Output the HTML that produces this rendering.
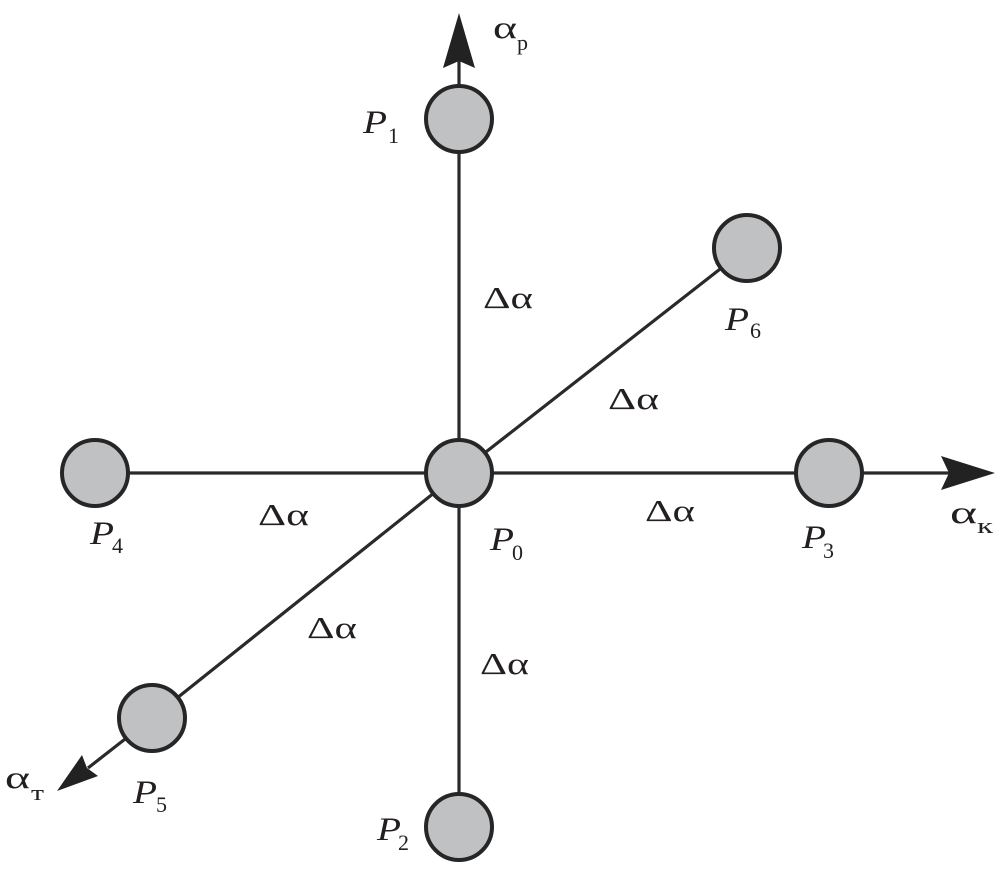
<!DOCTYPE html>
<html>
<head>
<meta charset="utf-8">
<style>
  html, body { margin: 0; padding: 0; background: #ffffff; }
  svg { display: block; }
</style>
</head>
<body>
<svg width="1000" height="877" viewBox="0 0 1000 877" xmlns="http://www.w3.org/2000/svg">
  <g stroke="#2a2a2a" stroke-width="3.2" fill="none">
    <line x1="459" y1="60" x2="459" y2="795"/>
    <line x1="125" y1="473" x2="952" y2="473"/>
    <polyline points="747,248 459,473 152,718 88,768"/>
  </g>
  <g fill="#222222">
    <polygon points="459,13 443,68 459,61 475,68"/>
    <polygon points="995,473 941,456 949,473 941,490"/>
    <polygon points="57,791 82,755 87,768 98,776"/>
  </g>
  <g fill="#c0c1c3" stroke="#262626" stroke-width="4">
    <circle cx="459" cy="119" r="33"/>
    <circle cx="459" cy="473" r="33"/>
    <circle cx="459" cy="827" r="33"/>
    <circle cx="829" cy="473" r="33"/>
    <circle cx="95" cy="473" r="33"/>
    <circle cx="152" cy="718" r="33"/>
    <circle cx="747" cy="248" r="33"/>
  </g>

  <g font-family="'Liberation Serif', 'Times New Roman', Times, serif" fill="#231f20" font-weight="normal">
    <!-- axis labels -->
    <text font-size="32" x="493" y="38" textLength="24" lengthAdjust="spacingAndGlyphs">α</text>
    <text font-size="22" x="517" y="50">p</text>

    <text font-size="32" x="950" y="523" textLength="27" lengthAdjust="spacingAndGlyphs">α</text>
    <text font-size="22" x="977" y="533" textLength="16" lengthAdjust="spacingAndGlyphs">к</text>

    <text font-size="32" x="5" y="788" textLength="25" lengthAdjust="spacingAndGlyphs">α</text>
    <text font-size="22" x="31" y="800" textLength="13" lengthAdjust="spacingAndGlyphs">т</text>

    <!-- point labels -->
    <text font-size="33" font-style="italic" x="363" y="133" textLength="24" lengthAdjust="spacingAndGlyphs">P</text>
    <text font-size="22" x="388" y="143">1</text>
    <text font-size="33" font-style="italic" x="725" y="330" textLength="24" lengthAdjust="spacingAndGlyphs">P</text>
    <text font-size="22" x="750" y="338">6</text>
    <text font-size="33" font-style="italic" x="90" y="544" textLength="24" lengthAdjust="spacingAndGlyphs">P</text>
    <text font-size="22" x="112" y="553">4</text>
    <text font-size="33" font-style="italic" x="490" y="550" textLength="24" lengthAdjust="spacingAndGlyphs">P</text>
    <text font-size="22" x="512" y="560">0</text>
    <text font-size="33" font-style="italic" x="802" y="548" textLength="24" lengthAdjust="spacingAndGlyphs">P</text>
    <text font-size="22" x="823" y="558">3</text>
    <text font-size="33" font-style="italic" x="133" y="803" textLength="24" lengthAdjust="spacingAndGlyphs">P</text>
    <text font-size="22" x="156" y="812">5</text>
    <text font-size="33" font-style="italic" x="377" y="840" textLength="24" lengthAdjust="spacingAndGlyphs">P</text>
    <text font-size="22" x="398" y="850">2</text>

    <!-- Δα labels -->
    <text font-size="31" x="483" y="308" textLength="50" lengthAdjust="spacingAndGlyphs">Δα</text>
    <text font-size="31" x="608" y="409" textLength="51" lengthAdjust="spacingAndGlyphs">Δα</text>
    <text font-size="31" x="258" y="525" textLength="51" lengthAdjust="spacingAndGlyphs">Δα</text>
    <text font-size="31" x="645" y="521" textLength="50" lengthAdjust="spacingAndGlyphs">Δα</text>
    <text font-size="31" x="307" y="638" textLength="50" lengthAdjust="spacingAndGlyphs">Δα</text>
    <text font-size="31" x="480" y="674" textLength="49" lengthAdjust="spacingAndGlyphs">Δα</text>
  </g>
</svg>
</body>
</html>
